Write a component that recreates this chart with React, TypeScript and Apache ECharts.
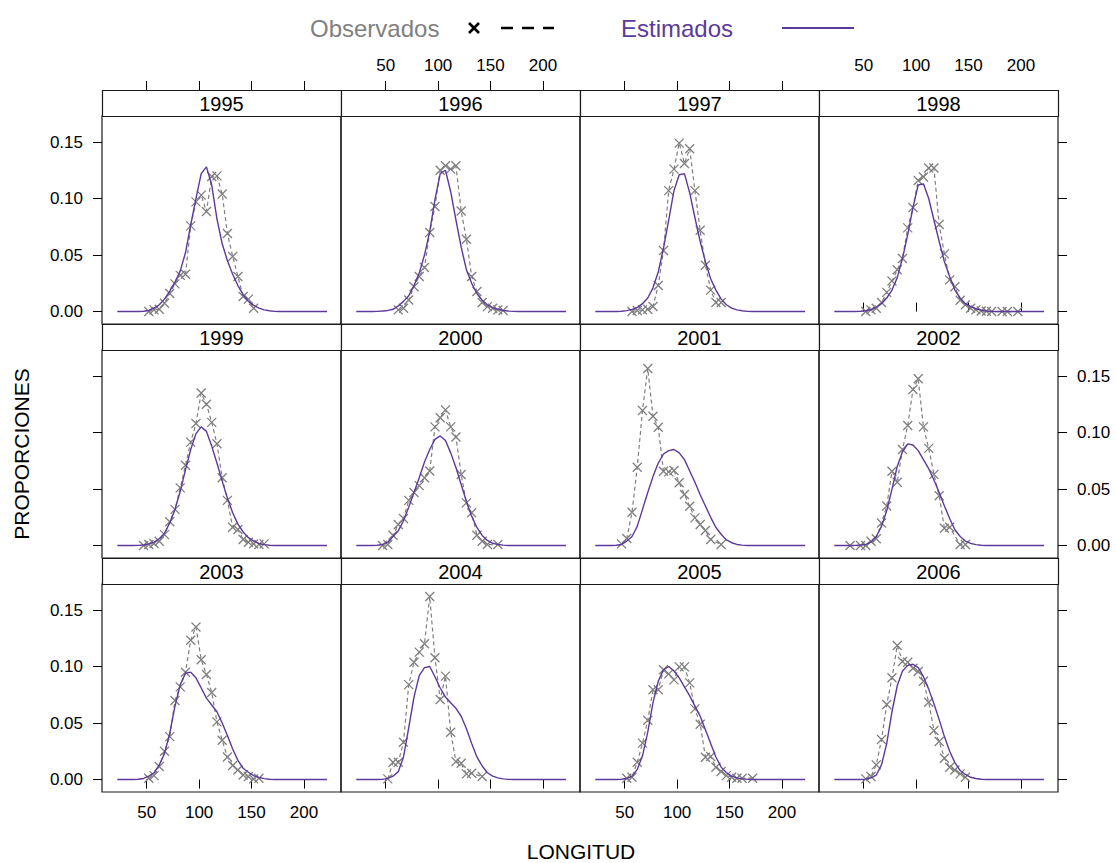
import { useEffect, useRef } from 'react';
import * as echarts from 'echarts';

const YEARS = [1995, 1996, 1997, 1998, 1999, 2000, 2001, 2002, 2003, 2004, 2005, 2006];

const X_TICKS = [50, 100, 150, 200];
const Y_TICKS = [0, 0.05, 0.1, 0.15];

// Length grid for the fitted (estimated) curves
const EST_X = [22, 37, 42, 47, 52, 57, 62, 67, 72, 77, 82, 87, 92, 97, 102, 107, 112, 117, 122, 127, 132, 137, 142, 147, 152, 157, 162, 167, 172, 177, 222];

// First observed length of each year; observations every 5 length units
const OBS_START = [52, 62, 57, 52, 47, 47, 47, 37, 52, 52, 52, 52];
const OBS_STEP = 5;

const OBS_1995 = [0.0, 0.0015, 0.002, 0.0074, 0.016, 0.0245, 0.032, 0.033, 0.0758, 0.097, 0.103, 0.0885, 0.1195, 0.12, 0.104, 0.069, 0.0487, 0.031, 0.0133, 0.011, 0.003];
const OBS_1996 = [0.0015, 0.003, 0.0103, 0.022, 0.031, 0.039, 0.07, 0.093, 0.125, 0.129, 0.126, 0.129, 0.089, 0.064, 0.031, 0.0177, 0.008, 0.0044, 0.003, 0.0015, 0.001];
const OBS_1997 = [0.0, 0.001, 0.0015, 0.002, 0.0045, 0.023, 0.054, 0.107, 0.126, 0.149, 0.131, 0.144, 0.107, 0.072, 0.041, 0.019, 0.008, 0.008];
const OBS_1998 = [0.0, 0.0015, 0.003, 0.008, 0.017, 0.027, 0.037, 0.047, 0.074, 0.092, 0.116, 0.119, 0.127, 0.127, 0.077, 0.051, 0.028, 0.022, 0.01, 0.006, 0.003, 0.0015, 0.0005, 0.0003, 0.0, null, 0.0, 0.0, null, 0.0];
const OBS_1999 = [0.0, 0.001, 0.0018, 0.0038, 0.0097, 0.021, 0.032, 0.051, 0.071, 0.0915, 0.108, 0.135, 0.125, 0.109, 0.09, 0.06, 0.04, 0.0162, 0.0142, 0.0053, 0.003, 0.0015, 0.0009, 0.0015];
const OBS_2000 = [0.0, 0.001, 0.0091, 0.0186, 0.024, 0.04, 0.047, 0.053, 0.06, 0.066, 0.105, 0.113, 0.12, 0.105, 0.096, 0.0628, 0.0378, 0.029, 0.0091, 0.0038, 0.0009, null, 0.0009];
const OBS_2001 = [0.0015, 0.0062, 0.0295, 0.0693, 0.1195, 0.1566, 0.1144, 0.1047, 0.0658, 0.0652, 0.0664, 0.0555, 0.0452, 0.0348, 0.0245, 0.0186, 0.0133, 0.0053, null, 0.0009];
const OBS_2002 = [0.0, null, 0.0, 0.0, 0.0038, 0.006, 0.02, 0.035, 0.0658, 0.056, 0.085, 0.1062, 0.138, 0.1475, 0.105, 0.086, 0.063, 0.044, 0.0153, 0.0162, null, 0.0009, 0.0009];
const OBS_2003 = [0.0012, 0.0035, 0.0115, 0.025, 0.038, 0.07, 0.082, 0.095, 0.1233, 0.135, 0.106, 0.093, 0.077, 0.051, 0.0348, 0.02, 0.0124, 0.0085, 0.004, 0.0027, 0.0006, 0.0012];
const OBS_2004 = [0.0006, 0.0153, 0.0153, 0.033, 0.084, 0.1038, 0.1127, 0.1201, 0.1619, 0.1077, 0.0708, 0.0915, 0.0419, 0.0159, 0.0145, 0.005, 0.0056, null, 0.0027];
const OBS_2005 = [0.0012, 0.0021, 0.0153, 0.0322, 0.0525, 0.0794, 0.0794, 0.0971, 0.0935, 0.0882, 0.0997, 0.0997, 0.0855, 0.0625, 0.049, 0.0198, 0.0204, 0.0109, 0.0071, 0.0035, 0.0021, 0.0012, 0.0012, null, 0.0012];
const OBS_2006 = [0.0006, 0.0027, 0.013, 0.0354, 0.0664, 0.09, 0.1186, 0.1044, 0.1038, 0.0985, 0.0956, 0.087, 0.0684, 0.0434, 0.0336, 0.0189, 0.0109, 0.0085, 0.005, 0.0021];

const EST_1995 = [0, 0, 0.0001, 0.0003, 0.001, 0.003, 0.006, 0.011, 0.018, 0.026, 0.036, 0.052, 0.077, 0.1, 0.122, 0.128, 0.112, 0.082, 0.06, 0.045, 0.033, 0.023, 0.015, 0.009, 0.0055, 0.003, 0.0015, 0.0007, 0.0002, 0, 0];
const EST_1996 = [0, 0, 0.0002, 0.0005, 0.001, 0.002, 0.005, 0.009, 0.014, 0.023, 0.034, 0.05, 0.071, 0.099, 0.122, 0.125, 0.106, 0.081, 0.057, 0.037, 0.025, 0.016, 0.01, 0.006, 0.0035, 0.002, 0.001, 0.0005, 0.0002, 0, 0];
const EST_1997 = [0, 0, 0.0001, 0.0003, 0.0008, 0.002, 0.0035, 0.007, 0.012, 0.021, 0.035, 0.056, 0.081, 0.107, 0.121, 0.122, 0.105, 0.083, 0.062, 0.044, 0.029, 0.019, 0.011, 0.006, 0.003, 0.0015, 0.0007, 0.0002, 0, 0, 0];
const EST_1998 = [0, 0, 0.0001, 0.0003, 0.0007, 0.0018, 0.004, 0.007, 0.012, 0.019, 0.03, 0.047, 0.068, 0.092, 0.112, 0.113, 0.1, 0.081, 0.062, 0.044, 0.031, 0.019, 0.012, 0.007, 0.0044, 0.0025, 0.0012, 0.0005, 0.0002, 0, 0];
const EST_1999 = [0, 0.0001, 0.0002, 0.0005, 0.0015, 0.003, 0.006, 0.011, 0.02, 0.032, 0.048, 0.067, 0.085, 0.099, 0.105, 0.101, 0.088, 0.073, 0.057, 0.042, 0.029, 0.019, 0.012, 0.007, 0.004, 0.002, 0.0008, 0.0003, 0.0001, 0, 0];
const EST_2000 = [0, 0.0001, 0.0003, 0.001, 0.003, 0.008, 0.013, 0.022, 0.034, 0.047, 0.06, 0.074, 0.085, 0.094, 0.097, 0.093, 0.082, 0.069, 0.054, 0.039, 0.026, 0.016, 0.009, 0.0045, 0.002, 0.001, 0.0004, 0.0001, 0, 0, 0];
const EST_2001 = [0, 0.0001, 0.0003, 0.001, 0.004, 0.008, 0.017, 0.032, 0.047, 0.061, 0.073, 0.081, 0.084, 0.085, 0.082, 0.076, 0.066, 0.056, 0.045, 0.035, 0.025, 0.016, 0.01, 0.005, 0.0025, 0.001, 0.0004, 0.0001, 0, 0, 0];
const EST_2002 = [0, 0, 0.0002, 0.0005, 0.001, 0.003, 0.008, 0.017, 0.031, 0.05, 0.07, 0.083, 0.09, 0.089, 0.084, 0.076, 0.068, 0.058, 0.047, 0.035, 0.024, 0.014, 0.008, 0.004, 0.002, 0.0008, 0.0003, 0.0001, 0, 0, 0];
const EST_2003 = [0, 0.0001, 0.0003, 0.001, 0.003, 0.006, 0.013, 0.023, 0.041, 0.065, 0.084, 0.094, 0.095, 0.09, 0.081, 0.072, 0.066, 0.06, 0.05, 0.039, 0.027, 0.017, 0.01, 0.0065, 0.0035, 0.0018, 0.0008, 0.0003, 0.0001, 0, 0];
const EST_2004 = [0, 0, 0, 0.0002, 0.001, 0.003, 0.007, 0.02, 0.046, 0.073, 0.092, 0.099, 0.1, 0.091, 0.081, 0.073, 0.068, 0.063, 0.056, 0.045, 0.032, 0.02, 0.012, 0.006, 0.003, 0.0015, 0.0006, 0.0002, 0, 0, 0];
const EST_2005 = [0, 0, 0.0001, 0.0003, 0.001, 0.003, 0.009, 0.021, 0.042, 0.068, 0.087, 0.097, 0.1, 0.096, 0.09, 0.082, 0.074, 0.065, 0.056, 0.044, 0.032, 0.02, 0.011, 0.006, 0.003, 0.0015, 0.0006, 0.0002, 0, 0, 0];
const EST_2006 = [0, 0, 0, 0.0001, 0.0004, 0.0015, 0.004, 0.013, 0.032, 0.06, 0.083, 0.096, 0.101, 0.102, 0.099, 0.091, 0.08, 0.067, 0.053, 0.038, 0.025, 0.015, 0.008, 0.0045, 0.002, 0.0009, 0.0003, 0.0001, 0, 0, 0];

const OBS = [OBS_1995, OBS_1996, OBS_1997, OBS_1998, OBS_1999, OBS_2000, OBS_2001, OBS_2002, OBS_2003, OBS_2004, OBS_2005, OBS_2006];
const EST = [EST_1995, EST_1996, EST_1997, EST_1998, EST_1999, EST_2000, EST_2001, EST_2002, EST_2003, EST_2004, EST_2005, EST_2006];

const FONT = '"Liberation Sans", Arial, Helvetica, sans-serif';
const PURPLE = '#5b3a9b';
const GRAY = '#7f7f7f';

const COL_LEFT = 102;
const COL_W = 239;
const ROW_TOP = 116;
const ROW_H = 208;
const ROW_STEP = 234;
const STRIP_H = 26;
const X_MIN = 7.4;
const X_MAX = 235.3;
const Y_MIN = -0.011;
const Y_MAX = 0.173;
const TICK_LEN = 9;

function xAxisCfg(gridIndex: number, position: string, showTick: boolean, showLabel: boolean) {
  return {
    type: 'value',
    gridIndex,
    position,
    min: X_MIN,
    max: X_MAX,
    axisLine: { show: false },
    splitLine: { show: false },
    axisTick: {
      show: showTick,
      inside: false,
      length: TICK_LEN,
      customValues: X_TICKS,
      lineStyle: { color: '#000', width: 1 },
    },
    axisLabel: {
      show: showLabel,
      customValues: X_TICKS,
      fontSize: 17,
      fontFamily: FONT,
      color: '#000',
      margin: position === 'top' ? 16 : 12,
    },
  };
}

function yAxisCfg(gridIndex: number, position: string, showTick: boolean, showLabel: boolean) {
  return {
    type: 'value',
    gridIndex,
    position,
    min: Y_MIN,
    max: Y_MAX,
    axisLine: { show: false },
    splitLine: { show: false },
    axisTick: {
      show: showTick,
      inside: false,
      length: TICK_LEN,
      customValues: Y_TICKS,
      lineStyle: { color: '#000', width: 1 },
    },
    axisLabel: {
      show: showLabel,
      customValues: Y_TICKS,
      fontSize: 17,
      fontFamily: FONT,
      color: '#000',
      margin: 19,
      formatter: (v: number) => v.toFixed(2),
    },
  };
}

export default function App() {
  const ref = useRef<HTMLDivElement>(null);

  useEffect(() => {
    if (!ref.current) return;
    const chart = echarts.init(ref.current, null, { renderer: 'svg' });

    const grids: any[] = [];
    const xAxes: any[] = [];
    const yAxes: any[] = [];
    const series: any[] = [];
    const graphics: any[] = [];

    YEARS.forEach((year, i) => {
      const r = Math.floor(i / 4);
      const c = i % 4;
      const left = COL_LEFT + c * COL_W;
      const top = ROW_TOP + r * ROW_STEP;
      grids.push({
        left,
        top,
        width: COL_W,
        height: ROW_H,
        show: true,
        borderColor: '#1a1a1a',
        borderWidth: 1.2,
        backgroundColor: 'transparent',
      });
      const xi = xAxes.length;
      xAxes.push(xAxisCfg(i, 'bottom', r === 2, r === 2 && (c === 0 || c === 2)));
      if (r === 0) {
        xAxes.push({ ...xAxisCfg(i, 'top', true, c === 1 || c === 3), offset: STRIP_H });
      }
      const yi = yAxes.length;
      yAxes.push(yAxisCfg(i, 'left', c === 0, c === 0 && r !== 1));
      if (c === 3) {
        yAxes.push(yAxisCfg(i, 'right', true, r === 1));
      }

      const obsData = OBS[i]
        .map((v, k) => [OBS_START[i] + OBS_STEP * k, v])
        .filter((p) => p[1] !== null);
      const estData = EST_X.map((x, k) => [x, EST[i][k]]);

      series.push({
        type: 'line',
        name: 'Observados ' + year,
        xAxisIndex: xi,
        yAxisIndex: yi,
        data: obsData,
        symbol: 'path://M0,0L10,10M10,0L0,10',
        symbolSize: 9,
        showSymbol: true,
        itemStyle: { color: 'none', borderColor: GRAY, borderWidth: 1.3 },
        lineStyle: { color: GRAY, width: 1.2, type: [4, 3] },
        z: 2,
        silent: true,
      });
      series.push({
        type: 'line',
        name: 'Estimados ' + year,
        xAxisIndex: xi,
        yAxisIndex: yi,
        data: estData,
        symbol: 'none',
        showSymbol: false,
        lineStyle: { color: PURPLE, width: 1.4 },
        z: 3,
        silent: true,
      });

      const stripTop = top - STRIP_H;
      graphics.push({
        type: 'rect',
        shape: { x: left + 0.5, y: stripTop + 0.5, width: COL_W, height: STRIP_H },
        style: { fill: '#fff', stroke: '#1a1a1a', lineWidth: 1.2 },
        z: 10,
      });
      graphics.push({
        type: 'text',
        x: left + COL_W / 2,
        y: stripTop + STRIP_H / 2 + 1,
        style: {
          text: String(year),
          fontSize: 20,
          fontFamily: FONT,
          fill: '#000',
          align: 'center',
          verticalAlign: 'middle',
        },
        z: 11,
      });
    });

    // legend
    graphics.push({
      type: 'text',
      x: 310,
      y: 28,
      style: { text: 'Observados', fontSize: 24, fontFamily: FONT, fill: GRAY, align: 'left', verticalAlign: 'middle' },
    });
    graphics.push({ type: 'line', shape: { x1: 469, y1: 23, x2: 479, y2: 33 }, style: { stroke: '#000', lineWidth: 2.6 } });
    graphics.push({ type: 'line', shape: { x1: 479, y1: 23, x2: 469, y2: 33 }, style: { stroke: '#000', lineWidth: 2.6 } });
    graphics.push({
      type: 'line',
      shape: { x1: 501, y1: 28, x2: 554, y2: 28 },
      style: { stroke: '#000', lineWidth: 2.6, lineDash: [12, 9] },
    });
    graphics.push({
      type: 'text',
      x: 621,
      y: 28,
      style: { text: 'Estimados', fontSize: 24, fontFamily: FONT, fill: PURPLE, align: 'left', verticalAlign: 'middle' },
    });
    graphics.push({ type: 'line', shape: { x1: 782, y1: 28, x2: 854, y2: 28 }, style: { stroke: PURPLE, lineWidth: 2 } });

    // axis titles
    graphics.push({
      type: 'text',
      x: 581,
      y: 851,
      style: { text: 'LONGITUD', fontSize: 21, fontFamily: FONT, fill: '#000', align: 'center', verticalAlign: 'middle' },
    });
    graphics.push({
      type: 'text',
      x: 21,
      y: 454,
      rotation: Math.PI / 2,
      style: { text: 'PROPORCIONES', fontSize: 21, fontFamily: FONT, fill: '#000', align: 'center', verticalAlign: 'middle' },
    });

    chart.setOption({
      animation: false,
      backgroundColor: '#fff',
      grid: grids,
      xAxis: xAxes,
      yAxis: yAxes,
      series,
      graphic: graphics,
    });

    return () => chart.dispose();
  }, []);

  return (
    <div
      ref={ref}
      style={{ position: 'fixed', left: 0, top: 0, width: 1116, height: 863, background: '#fff' }}
    />
  );
}
